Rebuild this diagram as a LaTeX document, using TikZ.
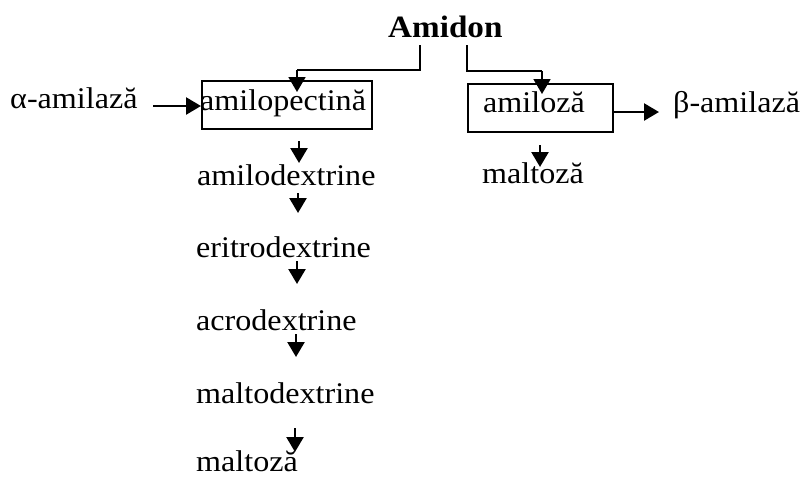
\documentclass[tikz,border=0pt]{standalone}
\usepackage{fontspec}
\setmainfont[FakeStretch=1.07]{Liberation Serif}
\usetikzlibrary{arrows.meta}
\begin{document}
\begin{tikzpicture}[x=1pt,y=-1pt,
  lbl/.style={anchor=base west, inner sep=0pt, font=\fontsize{30}{30}\selectfont},
  frame/.style={draw, line width=2pt, inner sep=0pt, anchor=north west},
  conn/.style={line width=2.5pt, -{Triangle[length=15pt,width=17pt]}},
  wire/.style={line width=1.8pt}]
\useasboundingbox (0,0) rectangle (803,477);

% title
\node[lbl, font=\fontsize{31}{31}\selectfont\bfseries] (amidon) at (388,37) {Amidon};

% left branch: amylopectin
\node[frame, minimum width=170pt, minimum height=48pt] (boxP) at (201,80) {};
\node[lbl] (pect) at (200,110) {amilopectină};
\node[lbl] (alpha) at (10,108) {α-amilază};
\node[lbl] (d1) at (197,185) {amilodextrine};
\node[lbl] (d2) at (196,257) {eritrodextrine};
\node[lbl] (d3) at (196,330) {acrodextrine};
\node[lbl] (d4) at (196,403) {maltodextrine};
\node[lbl] (malP) at (196,471) {maltoză};

% right branch: amylose
\node[frame, minimum width=145pt, minimum height=48pt] (boxA) at (467,83) {};
\node[lbl] (amiloza) at (483,112) {amiloză};
\node[lbl] (beta) at (673,112) {β-amilază};
\node[lbl] (malA) at (482,183) {maltoză};

% split of starch into the two fractions
\coordinate (sL) at (420,45);
\coordinate (sR) at (467,45);
\draw[wire] (sL) |- (297,70);
\draw[conn, line width=1.8pt] (297,70) -- (297,92);
\draw[wire] (sR) |- (542,71);
\draw[conn, line width=1.8pt] (542,71) -- (542,94);

% enzymes
\draw[conn] (153,106) -- (boxP.west |- 0,106);
\draw[conn] (boxA.east |- 0,112) -- (659,112);

% degradation steps
\draw[conn] (540,145) -- (540,167);
\draw[conn] (299,141) -- (299,163);
\draw[conn] (298,193) -- (298,213);
\draw[conn] (297,261) -- (297,284);
\draw[conn] (296,334) -- (296,357);
\draw[conn] (295,428) -- (295,452);
\end{tikzpicture}
\end{document}
